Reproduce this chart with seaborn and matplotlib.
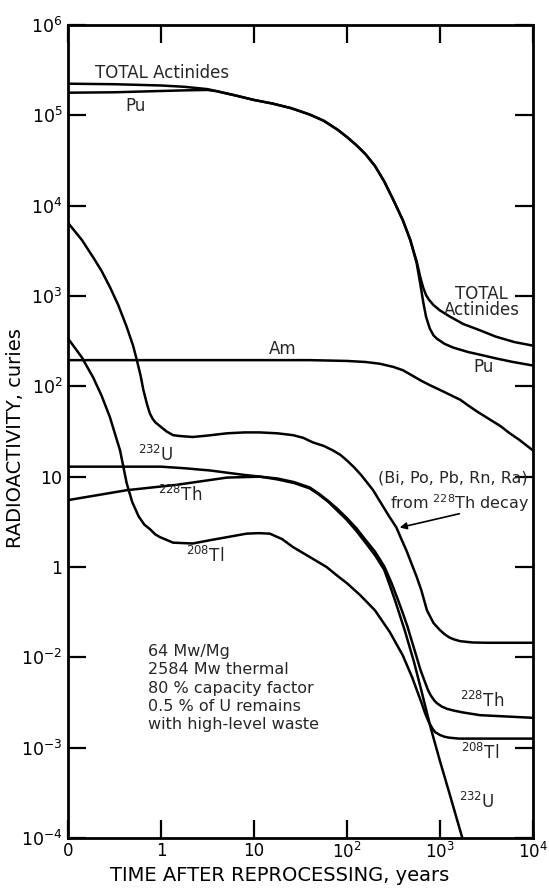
import matplotlib
matplotlib.use("Agg")
import matplotlib.pyplot as plt
import seaborn as sns
import pandas as pd
from matplotlib.ticker import NullLocator

# ---------------- data (time in years, activity in curies) -------------
t_total = [0.1, 0.316, 1, 1.78, 3.16, 3.98, 6.31, 10, 15.8, 25.1, 39.8, 56.2, 79.4, 100, 126,
           158, 200, 251, 316, 398, 479, 562, 617, 661, 708, 759, 851, 1000, 1288, 1778, 2692,
           3981, 6310, 10000]
a_total = [224000, 221000, 214000, 207000, 195000, 185000, 166000, 148000, 135000, 120000,
           102000, 87100, 69200, 57500, 46800, 37200, 27500, 18600, 11500, 6920, 4170, 2400,
           1585, 1230, 1023, 912, 794, 692, 589, 490, 417, 355, 309, 282]

t_pu = [0.1, 0.316, 1, 1.78, 3.16, 3.98, 6.31, 10, 15.8, 25.1, 39.8, 56.2, 79.4, 100, 126, 158,
        200, 251, 316, 398, 479, 562, 617, 661, 708, 776, 851, 933, 1122, 1380, 1995, 2692,
        3981, 6095, 10000]
a_pu = [178000, 180000, 186000, 189000, 191000, 185000, 166000, 148000, 135000, 120000, 102000,
        87100, 69200, 57500, 46800, 37200, 27500, 18600, 11500, 6920, 4170, 2290, 1318, 851,
        589, 437, 367, 335, 295, 269, 240, 224, 204, 186, 170]

t_am = [0.1, 1, 10, 39.8, 100, 158, 224, 316, 398, 501, 631, 794, 1000, 1259, 1660, 1995, 2512,
        3467, 4467, 5623, 7079, 10000]
a_am = [195, 195, 195, 195, 191, 186, 178, 164, 151, 132, 115, 102, 91.2, 81.3, 70.8, 61.7,
        52.5, 42.7, 36.3, 30.2, 25.7, 19.5]

t_daughters = [0.1, 0.141, 0.186, 0.229, 0.282, 0.347, 0.427, 0.501, 0.550, 0.603, 0.646, 0.708,
               0.759, 0.813, 0.871, 0.933, 1, 1.15, 1.35, 1.58, 2.19, 3.16, 5.13, 7.94, 11.5,
               17.8, 26.3, 33.9, 42.7, 56.2, 70.8, 85.1, 100, 120, 141, 166, 191, 219, 251, 288,
               339, 380, 437, 501, 562, 631, 724, 851, 1000, 1122, 1259, 1413, 1641, 2239,
               3162, 10000]
a_daughters = [6460, 4170, 2690, 1905, 1259, 794, 457, 282, 195, 132, 91.2, 63.1, 50.1, 43.7,
               39.8, 37.6, 35.5, 31.6, 28.8, 28.2, 27.5, 28.5, 30.2, 30.9, 30.9, 30.2, 28.8,
               26.9, 24.0, 21.9, 19.5, 17.4, 15.1, 12.6, 10.5, 8.51, 7.08, 5.62, 4.47, 3.55,
               2.75, 2.09, 1.51, 1.05, 0.776, 0.55, 0.331, 0.240, 0.200, 0.180, 0.166, 0.158,
               0.151, 0.146, 0.145, 0.145]

t_u232 = [0.1, 0.316, 1, 1.78, 3.39, 7.59, 11.7, 17.8, 26.9, 39.8, 50.1, 63.1, 79.4, 100, 126,
          158, 200, 251, 288, 331, 417, 525, 631, 794, 1000, 1259, 1738, 1995]
a_u232 = [12.9, 12.9, 12.9, 12.4, 11.7, 10.5, 10.0, 9.33, 8.51, 7.41, 6.31, 5.25, 4.17, 3.31,
          2.51, 1.86, 1.35, 0.933, 0.631, 0.417, 0.200, 0.0891, 0.0427, 0.0166, 0.00708,
          0.00316, 0.001, 0.000631]

t_th228 = [0.1, 0.427, 1.48, 5.13, 11.5, 17.8, 26.9, 39.8, 50.1, 63.1, 79.4, 100, 126, 158, 200,
           251, 302, 355, 398, 447, 501, 562, 617, 676, 741, 794, 871, 933, 1047, 1189, 1413,
           1778, 2692, 10000]
a_th228 = [5.50, 7.08, 8.13, 9.77, 10.0, 9.55, 8.71, 7.59, 6.46, 5.37, 4.37, 3.47, 2.69, 2.0,
           1.48, 1.02, 0.661, 0.427, 0.309, 0.219, 0.148, 0.1, 0.0724, 0.0562, 0.0437, 0.0380,
           0.0331, 0.0309, 0.0285, 0.0269, 0.0257, 0.0245, 0.0229, 0.0214]

t_tl208 = [0.1, 0.141, 0.186, 0.229, 0.282, 0.363, 0.427, 0.490, 0.575, 0.661, 0.759, 0.871,
           0.977, 1.35, 2.19, 3.55, 5.13, 8.32, 11.2, 14.8, 20.0, 26.3, 39.8, 60.3, 79.4, 100,
           138, 200, 288, 398, 501, 631, 692, 759, 832, 891, 1000, 1122, 1259, 1585, 10000]
a_tl208 = [339, 209, 126, 79.4, 45.7, 19.5, 8.51, 5.25, 3.63, 2.95, 2.63, 2.29, 2.14, 1.86,
           1.82, 2.0, 2.14, 2.34, 2.37, 2.34, 2.04, 1.66, 1.29, 1.0, 0.794, 0.661, 0.490, 0.331,
           0.191, 0.105, 0.0603, 0.0316, 0.0240, 0.0191, 0.0162, 0.0148, 0.0138, 0.0132,
           0.0129, 0.0126, 0.0126]

x_ticks = [0.1, 1, 10, 100, 1000, 10000]
x_tick_labels = ["0", "1", "10", r"$\mathregular{10^2}$", r"$\mathregular{10^3}$",
                 r"$\mathregular{10^4}$"]
y_ticks = [1e6, 1e5, 1e4, 1e3, 1e2, 1e1, 1e0, 1e-1, 1e-2, 1e-3]
y_tick_labels = [r"$\mathregular{10^6}$", r"$\mathregular{10^5}$", r"$\mathregular{10^4}$",
                 r"$\mathregular{10^3}$", r"$\mathregular{10^2}$", "10", "1",
                 r"$\mathregular{10^{-2}}$", r"$\mathregular{10^{-3}}$", r"$\mathregular{10^{-4}}$"]

series = {
    "TOTAL Actinides": (t_total, a_total),
    "Pu": (t_pu, a_pu),
    "Am": (t_am, a_am),
    "Daughters": (t_daughters, a_daughters),
    "U232": (t_u232, a_u232),
    "Th228": (t_th228, a_th228),
    "Tl208": (t_tl208, a_tl208),
}
df = pd.concat([pd.DataFrame({"time": t, "activity": a, "series": name})
                for name, (t, a) in series.items()], ignore_index=True)

# ---------------- figure ----------------
sns.set_theme(style="ticks")
plt.rcParams["font.family"] = ["DejaVu Sans"]
plt.rcParams["mathtext.default"] = "regular"

fig = plt.figure(figsize=(5.49, 8.9), dpi=100)
ax = fig.add_axes([68 / 549, 1 - 838 / 890, (533 - 68) / 549, (838 - 25) / 890])

sns.lineplot(data=df, x="time", y="activity", hue="series", estimator=None, sort=False,
             palette={k: "black" for k in series}, legend=False, linewidth=1.8, ax=ax)

ax.set_xscale("log")
ax.set_yscale("log")
ax.set_xlim(0.1, 1e4)
ax.set_ylim(1e-3, 1e6)
ax.set_xticks(x_ticks)
ax.set_xticklabels(x_tick_labels)
ax.set_yticks(y_ticks)
ax.set_yticklabels(y_tick_labels)
ax.xaxis.set_minor_locator(NullLocator())
ax.yaxis.set_minor_locator(NullLocator())
ax.tick_params(which="major", direction="in", length=13, width=1.6, top=True, right=True,
               labelsize=12.5, pad=4, color="black", labelcolor="black")
ax.tick_params(axis="x", pad=3, labelsize=12)
for s in ax.spines.values():
    s.set_linewidth(2.0)
    s.set_color("black")

ax.set_xlabel("TIME AFTER REPROCESSING, years", fontsize=14, color="black")
ax.set_ylabel("RADIOACTIVITY, curies", fontsize=14, color="black")
ax.xaxis.set_label_coords(0.455, -0.0345)
ax.yaxis.set_label_coords(-0.092, 0.492)

fs = 12
ax.text(0.195, 2.95e5, "TOTAL Actinides", fontsize=fs, ha="left", va="center")
ax.text(0.538, 1.26e5, "Pu", fontsize=fs, ha="center", va="center")
ax.text(20.5, 257, "Am", fontsize=fs, ha="center", va="center")
ax.text(0.883, 17.3, r"$^{232}$U", fontsize=fs, ha="center", va="center")
ax.text(1.60, 6.24, r"$^{228}$Th", fontsize=fs, ha="center", va="center")
ax.text(2.97, 1.32, r"$^{208}$Tl", fontsize=fs, ha="center", va="center")

ax.text(2818, 851, "TOTAL\nActinides", fontsize=fs, ha="center", va="center", linespacing=0.85)
ax.text(2951, 162, "Pu", fontsize=fs, ha="center", va="center")
ax.text(1380, 9.62, "(Bi, Po, Pb, Rn, Ra)", fontsize=11.5, ha="center", va="center")
ax.text(1641, 5.08, r"from $^{228}$Th decay", fontsize=11.5, ha="center", va="center")
ax.annotate("", xy=(345, 2.69), xytext=(1726, 3.95),
            arrowprops=dict(arrowstyle="-|>", color="black", lw=1.2, mutation_scale=10))

ax.text(2818, 0.0327, r"$^{228}$Th", fontsize=fs, ha="center", va="center")
ax.text(2692, 0.00871, r"$^{208}$Tl", fontsize=fs, ha="center", va="center")
ax.text(2512, 0.00251, r"$^{232}$U", fontsize=fs, ha="center", va="center")

ax.text(0.724, 0.14,
        "64 Mw/Mg\n2584 Mw thermal\n80 % capacity factor\n0.5 % of U remains\nwith high-level waste",
        fontsize=11.5, ha="left", va="top", linespacing=1.27)

fig.savefig("out.png", dpi=100)
